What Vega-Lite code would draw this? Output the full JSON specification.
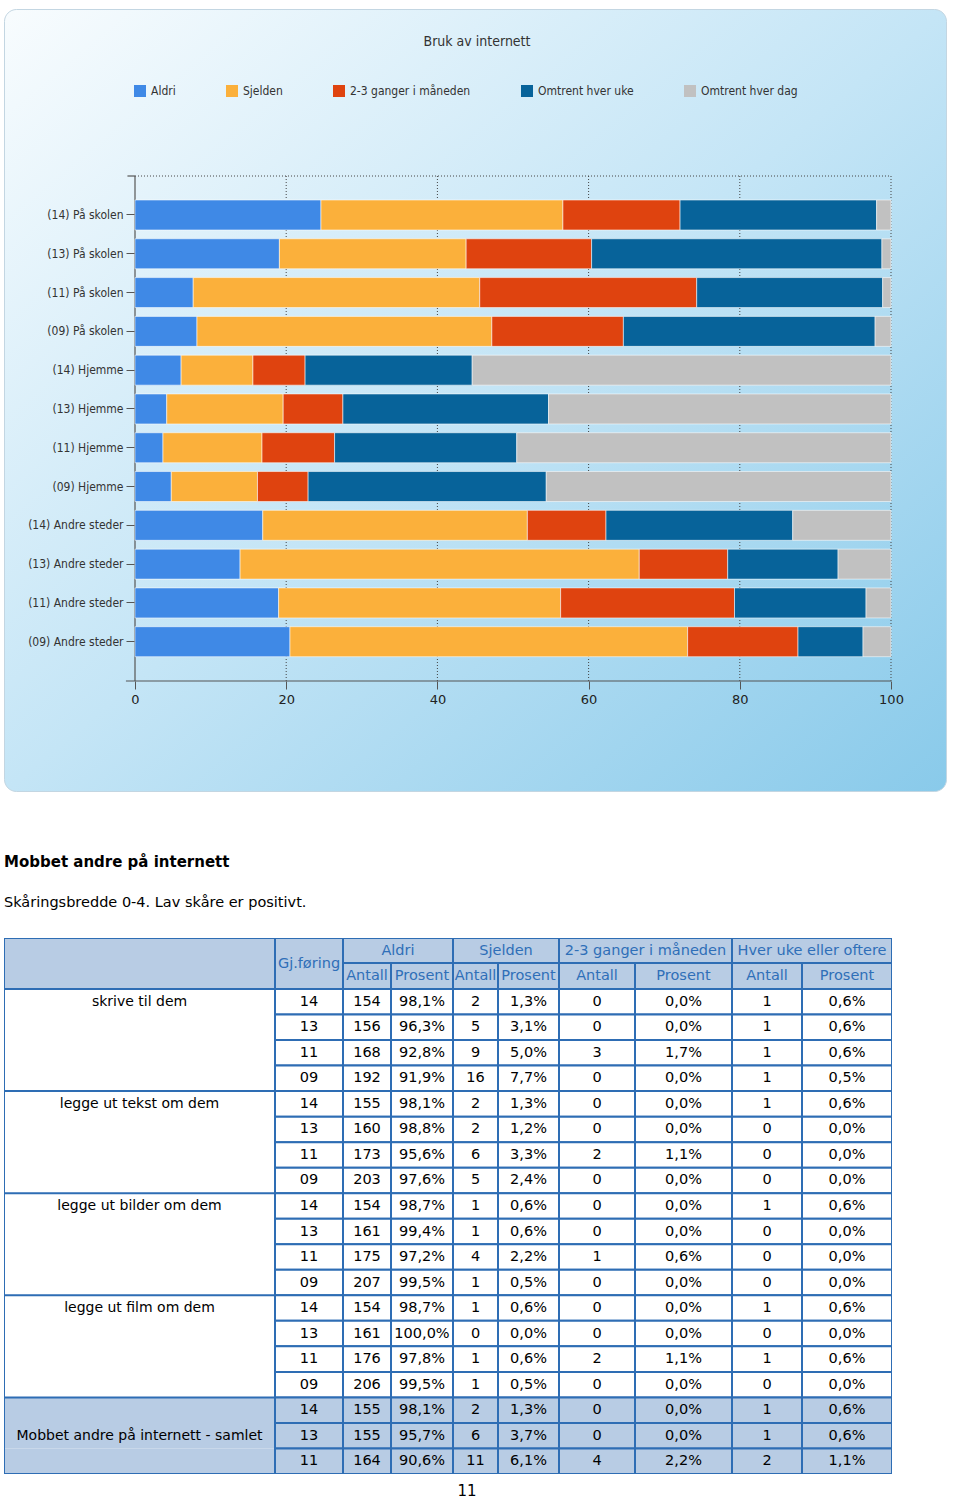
{
  "$schema": "https://vega.github.io/schema/vega-lite/v6.json",
  "padding": {"left": 3, "top": 8, "right": 0, "bottom": 0},
  "background": "#ffffff",
  "spacing": 62,
  "config": {
    "view": {"stroke": null},
    "concat": {"spacing": 0},
    "font": "DejaVu Sans"
  },
  "datasets": {
    "bars": [
      {"rad": "(14) På skolen", "svar": "Aldri", "pst": 24.6},
      {"rad": "(14) På skolen", "svar": "Sjelden", "pst": 32.0},
      {"rad": "(14) På skolen", "svar": "2-3 ganger i måneden", "pst": 15.5},
      {"rad": "(14) På skolen", "svar": "Omtrent hver uke", "pst": 26.0},
      {"rad": "(14) På skolen", "svar": "Omtrent hver dag", "pst": 1.9},
      {"rad": "(13) På skolen", "svar": "Aldri", "pst": 19.1},
      {"rad": "(13) På skolen", "svar": "Sjelden", "pst": 24.7},
      {"rad": "(13) På skolen", "svar": "2-3 ganger i måneden", "pst": 16.6},
      {"rad": "(13) På skolen", "svar": "Omtrent hver uke", "pst": 38.4},
      {"rad": "(13) På skolen", "svar": "Omtrent hver dag", "pst": 1.2},
      {"rad": "(11) På skolen", "svar": "Aldri", "pst": 7.7},
      {"rad": "(11) På skolen", "svar": "Sjelden", "pst": 37.9},
      {"rad": "(11) På skolen", "svar": "2-3 ganger i måneden", "pst": 28.7},
      {"rad": "(11) På skolen", "svar": "Omtrent hver uke", "pst": 24.6},
      {"rad": "(11) På skolen", "svar": "Omtrent hver dag", "pst": 1.1},
      {"rad": "(09) På skolen", "svar": "Aldri", "pst": 8.2},
      {"rad": "(09) På skolen", "svar": "Sjelden", "pst": 39.0},
      {"rad": "(09) På skolen", "svar": "2-3 ganger i måneden", "pst": 17.4},
      {"rad": "(09) På skolen", "svar": "Omtrent hver uke", "pst": 33.3},
      {"rad": "(09) På skolen", "svar": "Omtrent hver dag", "pst": 2.1},
      {"rad": "(14) Hjemme", "svar": "Aldri", "pst": 6.1},
      {"rad": "(14) Hjemme", "svar": "Sjelden", "pst": 9.5},
      {"rad": "(14) Hjemme", "svar": "2-3 ganger i måneden", "pst": 6.9},
      {"rad": "(14) Hjemme", "svar": "Omtrent hver uke", "pst": 22.1},
      {"rad": "(14) Hjemme", "svar": "Omtrent hver dag", "pst": 55.4},
      {"rad": "(13) Hjemme", "svar": "Aldri", "pst": 4.2},
      {"rad": "(13) Hjemme", "svar": "Sjelden", "pst": 15.4},
      {"rad": "(13) Hjemme", "svar": "2-3 ganger i måneden", "pst": 7.9},
      {"rad": "(13) Hjemme", "svar": "Omtrent hver uke", "pst": 27.2},
      {"rad": "(13) Hjemme", "svar": "Omtrent hver dag", "pst": 45.3},
      {"rad": "(11) Hjemme", "svar": "Aldri", "pst": 3.7},
      {"rad": "(11) Hjemme", "svar": "Sjelden", "pst": 13.1},
      {"rad": "(11) Hjemme", "svar": "2-3 ganger i måneden", "pst": 9.6},
      {"rad": "(11) Hjemme", "svar": "Omtrent hver uke", "pst": 24.1},
      {"rad": "(11) Hjemme", "svar": "Omtrent hver dag", "pst": 49.5},
      {"rad": "(09) Hjemme", "svar": "Aldri", "pst": 4.8},
      {"rad": "(09) Hjemme", "svar": "Sjelden", "pst": 11.4},
      {"rad": "(09) Hjemme", "svar": "2-3 ganger i måneden", "pst": 6.7},
      {"rad": "(09) Hjemme", "svar": "Omtrent hver uke", "pst": 31.5},
      {"rad": "(09) Hjemme", "svar": "Omtrent hver dag", "pst": 45.6},
      {"rad": "(14) Andre steder", "svar": "Aldri", "pst": 16.9},
      {"rad": "(14) Andre steder", "svar": "Sjelden", "pst": 35.0},
      {"rad": "(14) Andre steder", "svar": "2-3 ganger i måneden", "pst": 10.4},
      {"rad": "(14) Andre steder", "svar": "Omtrent hver uke", "pst": 24.7},
      {"rad": "(14) Andre steder", "svar": "Omtrent hver dag", "pst": 13.0},
      {"rad": "(13) Andre steder", "svar": "Aldri", "pst": 13.9},
      {"rad": "(13) Andre steder", "svar": "Sjelden", "pst": 52.8},
      {"rad": "(13) Andre steder", "svar": "2-3 ganger i måneden", "pst": 11.7},
      {"rad": "(13) Andre steder", "svar": "Omtrent hver uke", "pst": 14.6},
      {"rad": "(13) Andre steder", "svar": "Omtrent hver dag", "pst": 7.0},
      {"rad": "(11) Andre steder", "svar": "Aldri", "pst": 19.0},
      {"rad": "(11) Andre steder", "svar": "Sjelden", "pst": 37.3},
      {"rad": "(11) Andre steder", "svar": "2-3 ganger i måneden", "pst": 23.0},
      {"rad": "(11) Andre steder", "svar": "Omtrent hver uke", "pst": 17.4},
      {"rad": "(11) Andre steder", "svar": "Omtrent hver dag", "pst": 3.3},
      {"rad": "(09) Andre steder", "svar": "Aldri", "pst": 20.5},
      {"rad": "(09) Andre steder", "svar": "Sjelden", "pst": 52.6},
      {"rad": "(09) Andre steder", "svar": "2-3 ganger i måneden", "pst": 14.6},
      {"rad": "(09) Andre steder", "svar": "Omtrent hver uke", "pst": 8.6},
      {"rad": "(09) Andre steder", "svar": "Omtrent hver dag", "pst": 3.7}
    ],
    "tabell": [
      {"grp": "skrive til dem", "gj": "14", "a_n": "154", "a_p": "98,1%", "s_n": "2", "s_p": "1,3%", "m_n": "0", "m_p": "0,0%", "u_n": "1", "u_p": "0,6%"},
      {"grp": "skrive til dem", "gj": "13", "a_n": "156", "a_p": "96,3%", "s_n": "5", "s_p": "3,1%", "m_n": "0", "m_p": "0,0%", "u_n": "1", "u_p": "0,6%"},
      {"grp": "skrive til dem", "gj": "11", "a_n": "168", "a_p": "92,8%", "s_n": "9", "s_p": "5,0%", "m_n": "3", "m_p": "1,7%", "u_n": "1", "u_p": "0,6%"},
      {"grp": "skrive til dem", "gj": "09", "a_n": "192", "a_p": "91,9%", "s_n": "16", "s_p": "7,7%", "m_n": "0", "m_p": "0,0%", "u_n": "1", "u_p": "0,5%"},
      {"grp": "legge ut tekst om dem", "gj": "14", "a_n": "155", "a_p": "98,1%", "s_n": "2", "s_p": "1,3%", "m_n": "0", "m_p": "0,0%", "u_n": "1", "u_p": "0,6%"},
      {"grp": "legge ut tekst om dem", "gj": "13", "a_n": "160", "a_p": "98,8%", "s_n": "2", "s_p": "1,2%", "m_n": "0", "m_p": "0,0%", "u_n": "0", "u_p": "0,0%"},
      {"grp": "legge ut tekst om dem", "gj": "11", "a_n": "173", "a_p": "95,6%", "s_n": "6", "s_p": "3,3%", "m_n": "2", "m_p": "1,1%", "u_n": "0", "u_p": "0,0%"},
      {"grp": "legge ut tekst om dem", "gj": "09", "a_n": "203", "a_p": "97,6%", "s_n": "5", "s_p": "2,4%", "m_n": "0", "m_p": "0,0%", "u_n": "0", "u_p": "0,0%"},
      {"grp": "legge ut bilder om dem", "gj": "14", "a_n": "154", "a_p": "98,7%", "s_n": "1", "s_p": "0,6%", "m_n": "0", "m_p": "0,0%", "u_n": "1", "u_p": "0,6%"},
      {"grp": "legge ut bilder om dem", "gj": "13", "a_n": "161", "a_p": "99,4%", "s_n": "1", "s_p": "0,6%", "m_n": "0", "m_p": "0,0%", "u_n": "0", "u_p": "0,0%"},
      {"grp": "legge ut bilder om dem", "gj": "11", "a_n": "175", "a_p": "97,2%", "s_n": "4", "s_p": "2,2%", "m_n": "1", "m_p": "0,6%", "u_n": "0", "u_p": "0,0%"},
      {"grp": "legge ut bilder om dem", "gj": "09", "a_n": "207", "a_p": "99,5%", "s_n": "1", "s_p": "0,5%", "m_n": "0", "m_p": "0,0%", "u_n": "0", "u_p": "0,0%"},
      {"grp": "legge ut film om dem", "gj": "14", "a_n": "154", "a_p": "98,7%", "s_n": "1", "s_p": "0,6%", "m_n": "0", "m_p": "0,0%", "u_n": "1", "u_p": "0,6%"},
      {"grp": "legge ut film om dem", "gj": "13", "a_n": "161", "a_p": "100,0%", "s_n": "0", "s_p": "0,0%", "m_n": "0", "m_p": "0,0%", "u_n": "0", "u_p": "0,0%"},
      {"grp": "legge ut film om dem", "gj": "11", "a_n": "176", "a_p": "97,8%", "s_n": "1", "s_p": "0,6%", "m_n": "2", "m_p": "1,1%", "u_n": "1", "u_p": "0,6%"},
      {"grp": "legge ut film om dem", "gj": "09", "a_n": "206", "a_p": "99,5%", "s_n": "1", "s_p": "0,5%", "m_n": "0", "m_p": "0,0%", "u_n": "0", "u_p": "0,0%"},
      {"grp": "Mobbet andre på internett - samlet", "gj": "14", "a_n": "155", "a_p": "98,1%", "s_n": "2", "s_p": "1,3%", "m_n": "0", "m_p": "0,0%", "u_n": "1", "u_p": "0,6%"},
      {"grp": "Mobbet andre på internett - samlet", "gj": "13", "a_n": "155", "a_p": "95,7%", "s_n": "6", "s_p": "3,7%", "m_n": "0", "m_p": "0,0%", "u_n": "1", "u_p": "0,6%"},
      {"grp": "Mobbet andre på internett - samlet", "gj": "11", "a_n": "164", "a_p": "90,6%", "s_n": "11", "s_p": "6,1%", "m_n": "4", "m_p": "2,2%", "u_n": "2", "u_p": "1,1%"}
    ]
  },
  "vconcat": [
    {
      "width": 942,
      "height": 782,
      "view": {
        "fill": {"gradient": "linear", "x1": 0, "y1": 0, "x2": 1, "y2": 1, "stops": [{"offset": 0, "color": "#f8fcfe"}, {"offset": 0.5, "color": "#c4e5f6"}, {"offset": 1, "color": "#89caea"}]},
        "stroke": "#c3d6e2",
        "strokeWidth": 1,
        "cornerRadius": 12
      },
      "title": {"text": "Bruk av internett", "offset": -40, "anchor": "middle", "dx": 2, "font": "Liberation Sans Narrow, DejaVu Sans Condensed, Liberation Sans, sans-serif", "fontSize": 14, "fontWeight": "normal", "color": "#333333"},
      "resolve": {"scale": {"y": "independent"}, "axis": {"y": "independent"}},
      "layer": [
        {
          "layer": [
            {"data": {"values": [{}]}, "mark": {"type": "rule", "color": "#444444", "strokeDash": [1, 2], "strokeWidth": 1}, "encoding": {"x": {"datum": 20}, "y": {"datum": 0, "scale": {"domain": [-33.07, 121.78], "reverse": true, "nice": false, "zero": false}, "axis": null}, "y2": {"datum": 100}}},
            {"data": {"values": [{}]}, "mark": {"type": "rule", "color": "#444444", "strokeDash": [1, 2], "strokeWidth": 1}, "encoding": {"x": {"datum": 40}, "y": {"datum": 0, "scale": {"domain": [-33.07, 121.78], "reverse": true, "nice": false, "zero": false}, "axis": null}, "y2": {"datum": 100}}},
            {"data": {"values": [{}]}, "mark": {"type": "rule", "color": "#444444", "strokeDash": [1, 2], "strokeWidth": 1}, "encoding": {"x": {"datum": 60}, "y": {"datum": 0, "scale": {"domain": [-33.07, 121.78], "reverse": true, "nice": false, "zero": false}, "axis": null}, "y2": {"datum": 100}}},
            {"data": {"values": [{}]}, "mark": {"type": "rule", "color": "#444444", "strokeDash": [1, 2], "strokeWidth": 1}, "encoding": {"x": {"datum": 80}, "y": {"datum": 0, "scale": {"domain": [-33.07, 121.78], "reverse": true, "nice": false, "zero": false}, "axis": null}, "y2": {"datum": 100}}},
            {"data": {"values": [{}]}, "mark": {"type": "rule", "color": "#444444", "strokeDash": [1, 2], "strokeWidth": 1}, "encoding": {"x": {"datum": 100}, "y": {"datum": 0, "scale": {"domain": [-33.07, 121.78], "reverse": true, "nice": false, "zero": false}, "axis": null}, "y2": {"datum": 100}}},
            {"data": {"values": [{}]}, "mark": {"type": "rule", "color": "#444444", "strokeDash": [1, 2], "strokeWidth": 1}, "encoding": {"x": {"datum": 0}, "x2": {"datum": 100}, "y": {"datum": 0, "scale": {"domain": [-33.07, 121.78], "reverse": true, "nice": false, "zero": false}, "axis": null}}},
            {"data": {"values": [{}]}, "mark": {"type": "rule", "color": "#555555", "strokeWidth": 1.2}, "encoding": {"x": {"datum": 0}, "y": {"datum": 0, "scale": {"domain": [-33.07, 121.78], "reverse": true, "nice": false, "zero": false}, "axis": null}, "y2": {"datum": 100}}},
            {"data": {"values": [{}]}, "mark": {"type": "rule", "color": "#555555", "strokeWidth": 1.2}, "encoding": {"x": {"datum": -1.2}, "x2": {"datum": 100}, "y": {"datum": 100, "scale": {"domain": [-33.07, 121.78], "reverse": true, "nice": false, "zero": false}, "axis": null}}},
            {"data": {"values": [{}]}, "mark": {"type": "rule", "color": "#555555", "strokeWidth": 1.2}, "encoding": {"x": {"datum": -1.0}, "x2": {"datum": 0}, "y": {"datum": 0, "scale": {"domain": [-33.07, 121.78], "reverse": true, "nice": false, "zero": false}, "axis": null}}}
          ]
        },
        {
          "data": {"name": "bars"},
          "transform": [{"calculate": "indexof(['Aldri', 'Sjelden', '2-3 ganger i måneden', 'Omtrent hver uke', 'Omtrent hver dag'], datum.svar)", "as": "rekkefolge"}],
          "mark": {"type": "bar", "stroke": "#ffffff", "strokeWidth": 1, "strokeOpacity": 0.55},
          "encoding": {
            "y": {
              "field": "rad", "type": "nominal", "sort": null,
              "scale": {"range": [191, 647.7], "paddingInner": 0.227, "paddingOuter": 0},
              "axis": {"orient": "left", "offset": -131, "domain": false, "ticks": true, "tickSize": 9, "tickColor": "#555555", "labelFont": "Liberation Sans Narrow, DejaVu Sans Condensed, Liberation Sans, sans-serif", "labelFontSize": 12, "labelColor": "#333333", "labelPadding": 3, "title": null, "grid": false}
            },
            "x": {
              "field": "pst", "type": "quantitative", "stack": "zero",
              "scale": {"domain": [-17.328, 107.275], "nice": false, "zero": false},
              "axis": {"orient": "bottom", "offset": -110, "values": [0, 20, 40, 60, 80, 100], "domain": false, "grid": false, "tickSize": 8, "tickColor": "#555555", "labelFont": "DejaVu Sans", "labelFontSize": 13, "labelColor": "#222222", "labelPadding": 4, "labelFlush": false, "title": null}
            },
            "order": {"field": "rekkefolge", "type": "quantitative"},
            "color": {
              "field": "svar", "type": "nominal",
              "sort": ["Aldri", "Sjelden", "2-3 ganger i måneden", "Omtrent hver uke", "Omtrent hver dag"],
              "scale": {"domain": ["Aldri", "Sjelden", "2-3 ganger i måneden", "Omtrent hver uke", "Omtrent hver dag"], "range": ["#3f89e6", "#fbb03b", "#df430f", "#07639a", "#c1c1c1"]},
              "legend": {"orient": "none", "legendX": 130, "legendY": 76, "direction": "horizontal", "columns": 5, "columnPadding": 50, "title": null, "symbolType": "square", "symbolSize": 144, "symbolStrokeWidth": 0, "labelFont": "Liberation Sans Narrow, DejaVu Sans Condensed, Liberation Sans, sans-serif", "labelFontSize": 12, "labelColor": "#333333", "labelOffset": 5, "padding": 0}
            }
          }
        }
      ]
    },
    {
      "title": {"text": "Mobbet andre på internett", "subtitle": "Skåringsbredde 0-4. Lav skåre er positivt.", "anchor": "start", "font": "DejaVu Sans", "fontSize": 15, "fontWeight": "bold", "color": "#000000", "subtitleFont": "DejaVu Sans", "subtitleFontSize": 14.5, "subtitleColor": "#000000", "subtitlePadding": 26, "offset": 29},
      "spacing": 8,
      "vconcat": [
        {
          "spacing": 0,
          "hconcat": [
            {
              "spacing": 0,
              "vconcat": [
                {"width": 271, "height": 51, "data": {"values": [{"h": ""}]}, "layer": [{"mark": {"type": "rect", "fill": "#b8cce4", "stroke": "#2e6db4", "strokeWidth": 2, "clip": true}}]},
                {
                  "width": 271, "height": 485,
                  "data": {"name": "tabell"},
                  "transform": [{"calculate": "datum.grp + '|' + datum.gj", "as": "key"}],
                  "layer": [
                    {"mark": {"type": "rect", "clip": true}, "encoding": {"y": {"field": "key", "type": "nominal", "sort": null, "scale": {"paddingInner": 0, "paddingOuter": 0}, "axis": null}, "fill": {"condition": {"test": "datum.grp == 'Mobbet andre på internett - samlet'", "value": "#b8cce4"}, "value": "#ffffff"}}},
                    {"mark": {"type": "rule", "color": "#2e6db4", "strokeWidth": 2, "clip": true}, "encoding": {"y": {"field": "key", "type": "nominal", "sort": null, "bandPosition": 0}, "strokeOpacity": {"condition": {"test": "datum.gj == '14'", "value": 1}, "value": 0}}},
                    {"mark": {"type": "text", "font": "DejaVu Sans", "fontSize": 14, "color": "#000000", "clip": true}, "encoding": {"y": {"field": "key", "type": "nominal", "sort": null}, "text": {"condition": {"test": "(datum.grp != 'Mobbet andre på internett - samlet' && datum.gj == '14') || (datum.grp == 'Mobbet andre på internett - samlet' && datum.gj == '13')", "field": "grp"}, "value": ""}}},
                    {"data": {"values": [{}]}, "mark": {"type": "rect", "fillOpacity": 0, "stroke": "#2e6db4", "strokeWidth": 2, "clip": true}}
                  ]
                }
              ]
            },
            {
              "spacing": 0,
              "vconcat": [
                {"width": 68, "height": 51, "data": {"values": [{"h": "Gj.føring"}]}, "layer": [{"mark": {"type": "rect", "fill": "#b8cce4", "stroke": "#2e6db4", "strokeWidth": 2, "clip": true}}, {"mark": {"type": "text", "font": "DejaVu Sans", "fontSize": 14.5, "color": "#2f6fb8", "clip": true}, "encoding": {"text": {"field": "h"}}}]},
                {
                  "width": 68, "height": 485,
                  "data": {"name": "tabell"},
                  "transform": [{"calculate": "datum.grp + '|' + datum.gj", "as": "key"}],
                  "encoding": {"y": {"field": "key", "type": "nominal", "sort": null, "scale": {"paddingInner": 0, "paddingOuter": 0}, "axis": null}},
                  "layer": [
                    {"mark": {"type": "rect", "stroke": "#2e6db4", "strokeWidth": 2, "clip": true}, "encoding": {"fill": {"condition": {"test": "datum.grp == 'Mobbet andre på internett - samlet'", "value": "#b8cce4"}, "value": "#ffffff"}}},
                    {"mark": {"type": "text", "font": "DejaVu Sans", "fontSize": 14.5, "color": "#000000", "clip": true}, "encoding": {"text": {"field": "gj"}}}
                  ]
                }
              ]
            },
            {
              "spacing": 0,
              "vconcat": [
                {"width": 110, "height": 25, "data": {"values": [{"h": "Aldri"}]}, "layer": [{"mark": {"type": "rect", "fill": "#b8cce4", "stroke": "#2e6db4", "strokeWidth": 2, "clip": true}}, {"mark": {"type": "text", "font": "DejaVu Sans", "fontSize": 14.5, "color": "#2f6fb8", "clip": true}, "encoding": {"text": {"field": "h"}}}]},
                {
                  "spacing": 0,
                  "hconcat": [
                    {
                      "spacing": 0,
                      "vconcat": [
                        {"width": 48, "height": 26, "data": {"values": [{"h": "Antall"}]}, "layer": [{"mark": {"type": "rect", "fill": "#b8cce4", "stroke": "#2e6db4", "strokeWidth": 2, "clip": true}}, {"mark": {"type": "text", "font": "DejaVu Sans", "fontSize": 14.5, "color": "#2f6fb8", "clip": true}, "encoding": {"text": {"field": "h"}}}]},
                        {
                          "width": 48, "height": 485,
                          "data": {"name": "tabell"},
                          "transform": [{"calculate": "datum.grp + '|' + datum.gj", "as": "key"}],
                          "encoding": {"y": {"field": "key", "type": "nominal", "sort": null, "scale": {"paddingInner": 0, "paddingOuter": 0}, "axis": null}},
                          "layer": [
                            {"mark": {"type": "rect", "stroke": "#2e6db4", "strokeWidth": 2, "clip": true}, "encoding": {"fill": {"condition": {"test": "datum.grp == 'Mobbet andre på internett - samlet'", "value": "#b8cce4"}, "value": "#ffffff"}}},
                            {"mark": {"type": "text", "font": "DejaVu Sans", "fontSize": 14.5, "color": "#000000", "clip": true}, "encoding": {"text": {"field": "a_n"}}}
                          ]
                        }
                      ]
                    },
                    {
                      "spacing": 0,
                      "vconcat": [
                        {"width": 62, "height": 26, "data": {"values": [{"h": "Prosent"}]}, "layer": [{"mark": {"type": "rect", "fill": "#b8cce4", "stroke": "#2e6db4", "strokeWidth": 2, "clip": true}}, {"mark": {"type": "text", "font": "DejaVu Sans", "fontSize": 14.5, "color": "#2f6fb8", "clip": true}, "encoding": {"text": {"field": "h"}}}]},
                        {
                          "width": 62, "height": 485,
                          "data": {"name": "tabell"},
                          "transform": [{"calculate": "datum.grp + '|' + datum.gj", "as": "key"}],
                          "encoding": {"y": {"field": "key", "type": "nominal", "sort": null, "scale": {"paddingInner": 0, "paddingOuter": 0}, "axis": null}},
                          "layer": [
                            {"mark": {"type": "rect", "stroke": "#2e6db4", "strokeWidth": 2, "clip": true}, "encoding": {"fill": {"condition": {"test": "datum.grp == 'Mobbet andre på internett - samlet'", "value": "#b8cce4"}, "value": "#ffffff"}}},
                            {"mark": {"type": "text", "font": "DejaVu Sans", "fontSize": 14.5, "color": "#000000", "clip": true}, "encoding": {"text": {"field": "a_p"}}}
                          ]
                        }
                      ]
                    }
                  ]
                }
              ]
            },
            {
              "spacing": 0,
              "vconcat": [
                {"width": 106, "height": 25, "data": {"values": [{"h": "Sjelden"}]}, "layer": [{"mark": {"type": "rect", "fill": "#b8cce4", "stroke": "#2e6db4", "strokeWidth": 2, "clip": true}}, {"mark": {"type": "text", "font": "DejaVu Sans", "fontSize": 14.5, "color": "#2f6fb8", "clip": true}, "encoding": {"text": {"field": "h"}}}]},
                {
                  "spacing": 0,
                  "hconcat": [
                    {
                      "spacing": 0,
                      "vconcat": [
                        {"width": 45, "height": 26, "data": {"values": [{"h": "Antall"}]}, "layer": [{"mark": {"type": "rect", "fill": "#b8cce4", "stroke": "#2e6db4", "strokeWidth": 2, "clip": true}}, {"mark": {"type": "text", "font": "DejaVu Sans", "fontSize": 14.5, "color": "#2f6fb8", "clip": true}, "encoding": {"text": {"field": "h"}}}]},
                        {
                          "width": 45, "height": 485,
                          "data": {"name": "tabell"},
                          "transform": [{"calculate": "datum.grp + '|' + datum.gj", "as": "key"}],
                          "encoding": {"y": {"field": "key", "type": "nominal", "sort": null, "scale": {"paddingInner": 0, "paddingOuter": 0}, "axis": null}},
                          "layer": [
                            {"mark": {"type": "rect", "stroke": "#2e6db4", "strokeWidth": 2, "clip": true}, "encoding": {"fill": {"condition": {"test": "datum.grp == 'Mobbet andre på internett - samlet'", "value": "#b8cce4"}, "value": "#ffffff"}}},
                            {"mark": {"type": "text", "font": "DejaVu Sans", "fontSize": 14.5, "color": "#000000", "clip": true}, "encoding": {"text": {"field": "s_n"}}}
                          ]
                        }
                      ]
                    },
                    {
                      "spacing": 0,
                      "vconcat": [
                        {"width": 61, "height": 26, "data": {"values": [{"h": "Prosent"}]}, "layer": [{"mark": {"type": "rect", "fill": "#b8cce4", "stroke": "#2e6db4", "strokeWidth": 2, "clip": true}}, {"mark": {"type": "text", "font": "DejaVu Sans", "fontSize": 14.5, "color": "#2f6fb8", "clip": true}, "encoding": {"text": {"field": "h"}}}]},
                        {
                          "width": 61, "height": 485,
                          "data": {"name": "tabell"},
                          "transform": [{"calculate": "datum.grp + '|' + datum.gj", "as": "key"}],
                          "encoding": {"y": {"field": "key", "type": "nominal", "sort": null, "scale": {"paddingInner": 0, "paddingOuter": 0}, "axis": null}},
                          "layer": [
                            {"mark": {"type": "rect", "stroke": "#2e6db4", "strokeWidth": 2, "clip": true}, "encoding": {"fill": {"condition": {"test": "datum.grp == 'Mobbet andre på internett - samlet'", "value": "#b8cce4"}, "value": "#ffffff"}}},
                            {"mark": {"type": "text", "font": "DejaVu Sans", "fontSize": 14.5, "color": "#000000", "clip": true}, "encoding": {"text": {"field": "s_p"}}}
                          ]
                        }
                      ]
                    }
                  ]
                }
              ]
            },
            {
              "spacing": 0,
              "vconcat": [
                {"width": 173, "height": 25, "data": {"values": [{"h": "2-3 ganger i måneden"}]}, "layer": [{"mark": {"type": "rect", "fill": "#b8cce4", "stroke": "#2e6db4", "strokeWidth": 2, "clip": true}}, {"mark": {"type": "text", "font": "DejaVu Sans", "fontSize": 14.5, "color": "#2f6fb8", "clip": true}, "encoding": {"text": {"field": "h"}}}]},
                {
                  "spacing": 0,
                  "hconcat": [
                    {
                      "spacing": 0,
                      "vconcat": [
                        {"width": 76, "height": 26, "data": {"values": [{"h": "Antall"}]}, "layer": [{"mark": {"type": "rect", "fill": "#b8cce4", "stroke": "#2e6db4", "strokeWidth": 2, "clip": true}}, {"mark": {"type": "text", "font": "DejaVu Sans", "fontSize": 14.5, "color": "#2f6fb8", "clip": true}, "encoding": {"text": {"field": "h"}}}]},
                        {
                          "width": 76, "height": 485,
                          "data": {"name": "tabell"},
                          "transform": [{"calculate": "datum.grp + '|' + datum.gj", "as": "key"}],
                          "encoding": {"y": {"field": "key", "type": "nominal", "sort": null, "scale": {"paddingInner": 0, "paddingOuter": 0}, "axis": null}},
                          "layer": [
                            {"mark": {"type": "rect", "stroke": "#2e6db4", "strokeWidth": 2, "clip": true}, "encoding": {"fill": {"condition": {"test": "datum.grp == 'Mobbet andre på internett - samlet'", "value": "#b8cce4"}, "value": "#ffffff"}}},
                            {"mark": {"type": "text", "font": "DejaVu Sans", "fontSize": 14.5, "color": "#000000", "clip": true}, "encoding": {"text": {"field": "m_n"}}}
                          ]
                        }
                      ]
                    },
                    {
                      "spacing": 0,
                      "vconcat": [
                        {"width": 97, "height": 26, "data": {"values": [{"h": "Prosent"}]}, "layer": [{"mark": {"type": "rect", "fill": "#b8cce4", "stroke": "#2e6db4", "strokeWidth": 2, "clip": true}}, {"mark": {"type": "text", "font": "DejaVu Sans", "fontSize": 14.5, "color": "#2f6fb8", "clip": true}, "encoding": {"text": {"field": "h"}}}]},
                        {
                          "width": 97, "height": 485,
                          "data": {"name": "tabell"},
                          "transform": [{"calculate": "datum.grp + '|' + datum.gj", "as": "key"}],
                          "encoding": {"y": {"field": "key", "type": "nominal", "sort": null, "scale": {"paddingInner": 0, "paddingOuter": 0}, "axis": null}},
                          "layer": [
                            {"mark": {"type": "rect", "stroke": "#2e6db4", "strokeWidth": 2, "clip": true}, "encoding": {"fill": {"condition": {"test": "datum.grp == 'Mobbet andre på internett - samlet'", "value": "#b8cce4"}, "value": "#ffffff"}}},
                            {"mark": {"type": "text", "font": "DejaVu Sans", "fontSize": 14.5, "color": "#000000", "clip": true}, "encoding": {"text": {"field": "m_p"}}}
                          ]
                        }
                      ]
                    }
                  ]
                }
              ]
            },
            {
              "spacing": 0,
              "vconcat": [
                {"width": 160, "height": 25, "data": {"values": [{"h": "Hver uke eller oftere"}]}, "layer": [{"mark": {"type": "rect", "fill": "#b8cce4", "stroke": "#2e6db4", "strokeWidth": 2, "clip": true}}, {"mark": {"type": "text", "font": "DejaVu Sans", "fontSize": 14.5, "color": "#2f6fb8", "clip": true}, "encoding": {"text": {"field": "h"}}}]},
                {
                  "spacing": 0,
                  "hconcat": [
                    {
                      "spacing": 0,
                      "vconcat": [
                        {"width": 70, "height": 26, "data": {"values": [{"h": "Antall"}]}, "layer": [{"mark": {"type": "rect", "fill": "#b8cce4", "stroke": "#2e6db4", "strokeWidth": 2, "clip": true}}, {"mark": {"type": "text", "font": "DejaVu Sans", "fontSize": 14.5, "color": "#2f6fb8", "clip": true}, "encoding": {"text": {"field": "h"}}}]},
                        {
                          "width": 70, "height": 485,
                          "data": {"name": "tabell"},
                          "transform": [{"calculate": "datum.grp + '|' + datum.gj", "as": "key"}],
                          "encoding": {"y": {"field": "key", "type": "nominal", "sort": null, "scale": {"paddingInner": 0, "paddingOuter": 0}, "axis": null}},
                          "layer": [
                            {"mark": {"type": "rect", "stroke": "#2e6db4", "strokeWidth": 2, "clip": true}, "encoding": {"fill": {"condition": {"test": "datum.grp == 'Mobbet andre på internett - samlet'", "value": "#b8cce4"}, "value": "#ffffff"}}},
                            {"mark": {"type": "text", "font": "DejaVu Sans", "fontSize": 14.5, "color": "#000000", "clip": true}, "encoding": {"text": {"field": "u_n"}}}
                          ]
                        }
                      ]
                    },
                    {
                      "spacing": 0,
                      "vconcat": [
                        {"width": 90, "height": 26, "data": {"values": [{"h": "Prosent"}]}, "layer": [{"mark": {"type": "rect", "fill": "#b8cce4", "stroke": "#2e6db4", "strokeWidth": 2, "clip": true}}, {"mark": {"type": "text", "font": "DejaVu Sans", "fontSize": 14.5, "color": "#2f6fb8", "clip": true}, "encoding": {"text": {"field": "h"}}}]},
                        {
                          "width": 90, "height": 485,
                          "data": {"name": "tabell"},
                          "transform": [{"calculate": "datum.grp + '|' + datum.gj", "as": "key"}],
                          "encoding": {"y": {"field": "key", "type": "nominal", "sort": null, "scale": {"paddingInner": 0, "paddingOuter": 0}, "axis": null}},
                          "layer": [
                            {"mark": {"type": "rect", "stroke": "#2e6db4", "strokeWidth": 2, "clip": true}, "encoding": {"fill": {"condition": {"test": "datum.grp == 'Mobbet andre på internett - samlet'", "value": "#b8cce4"}, "value": "#ffffff"}}},
                            {"mark": {"type": "text", "font": "DejaVu Sans", "fontSize": 14.5, "color": "#000000", "clip": true}, "encoding": {"text": {"field": "u_p"}}}
                          ]
                        }
                      ]
                    }
                  ]
                }
              ]
            }
          ]
        },
        {"width": 926, "height": 18, "data": {"values": [{"s": "11"}]}, "mark": {"type": "text", "font": "DejaVu Sans", "fontSize": 15, "color": "#000000"}, "encoding": {"text": {"field": "s"}}}
      ]
    }
  ]
}
